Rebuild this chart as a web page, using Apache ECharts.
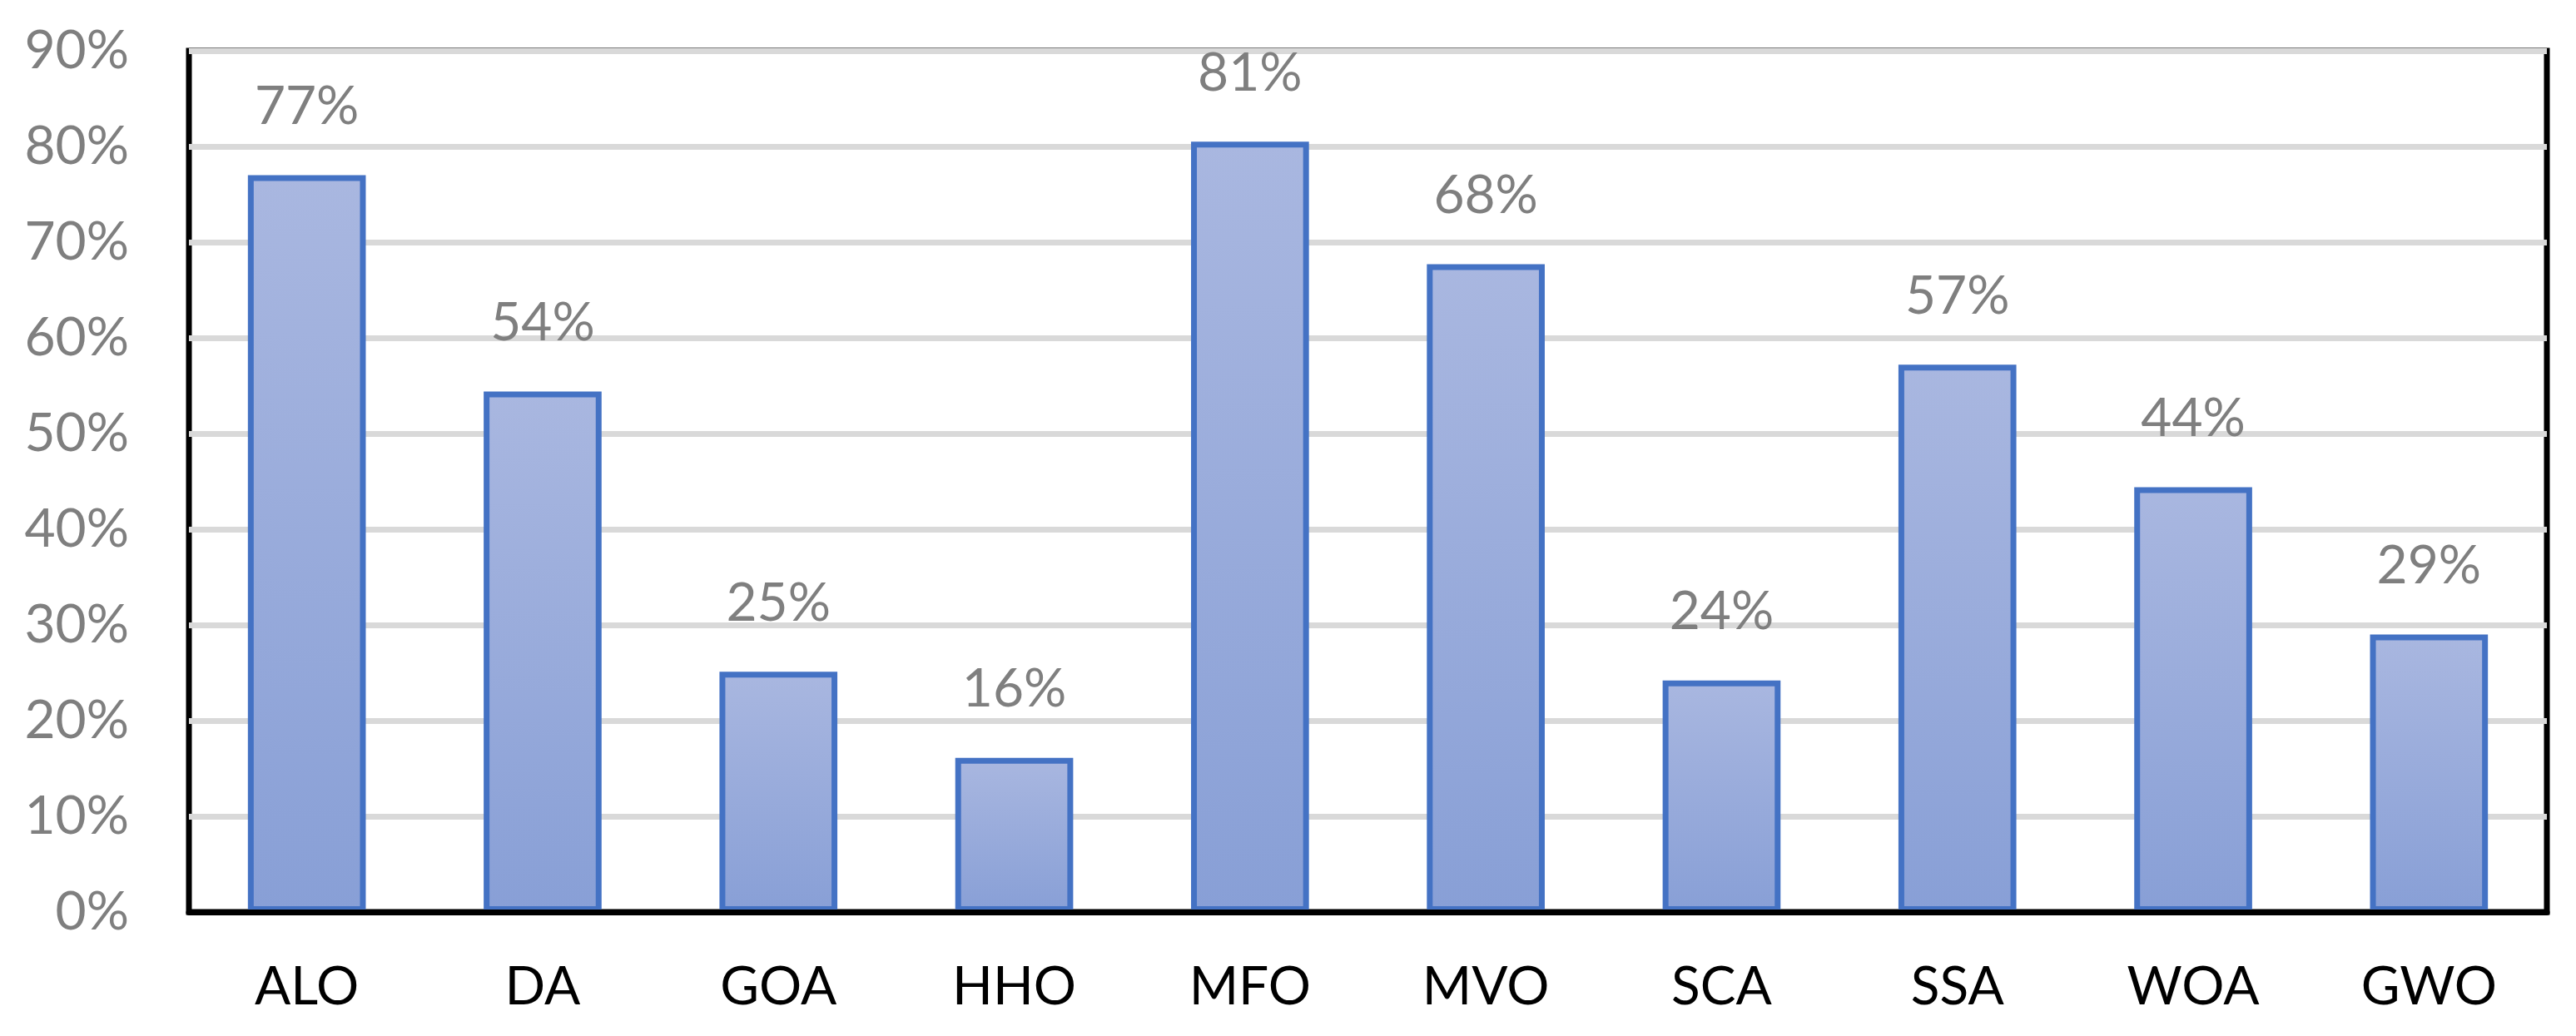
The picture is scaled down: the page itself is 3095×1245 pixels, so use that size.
<!DOCTYPE html>
<html>
<head>
<meta charset="utf-8">
<script src="https://cdn.jsdelivr.net/npm/echarts/dist/echarts.min.js"></script>
<style>
html,body{margin:0;padding:0;background:#fff;}
#chart{width:3095px;height:1245px;}
</style>
</head>
<body>
<div id="chart"></div>
<script>
var categories = ['ALO', 'DA', 'GOA', 'HHO', 'MFO', 'MVO', 'SCA', 'SSA', 'WOA', 'GWO'];
var values = [77.0, 54.4, 25.1, 16.1, 80.5, 67.7, 24.2, 57.2, 44.4, 29.0];
var yTicks = [0, 10, 20, 30, 40, 50, 60, 70, 80, 90];

var chart = echarts.init(document.getElementById('chart'), null, {renderer: 'canvas'});
var fontFamily = 'Lato, "Open Sans", sans-serif';
chart.setOption({
  animation: false,
  backgroundColor: '#ffffff',
  grid: {
    left: 227, right: 35, top: 61, bottom: 149,
    show: true, borderColor: '#000000', borderWidth: 7, backgroundColor: 'transparent'
  },
  xAxis: {
    type: 'category',
    data: categories,
    z: 10,
    axisLine: {show: true, lineStyle: {color: '#000000', width: 7}},
    axisTick: {show: false},
    axisLabel: {color: '#000000', fontSize: 64, fontFamily: fontFamily, margin: 58}
  },
  yAxis: {
    type: 'value',
    min: yTicks[0],
    max: yTicks[yTicks.length - 1],
    interval: yTicks[1] - yTicks[0],
    axisLine: {show: false},
    axisTick: {show: false},
    splitLine: {show: true, lineStyle: {color: '#D9D9D9', width: 7}},
    axisLabel: {color: '#7F7F7F', fontSize: 64, fontFamily: fontFamily, margin: 72,
      formatter: function (v) { return v + '%'; }}
  },
  series: [{
    type: 'bar',
    data: values,
    barWidth: '50%',
    itemStyle: {
      color: new echarts.graphic.LinearGradient(0, 0, 0, 1, [
        {offset: 0, color: '#A9B7E0'},
        {offset: 1, color: '#889FD6'}
      ]),
      borderColor: '#4472C4',
      borderWidth: 7
    },
    label: {
      show: true,
      position: 'top',
      distance: 50,
      color: '#7F7F7F',
      fontSize: 64,
      fontFamily: fontFamily,
      formatter: function (p) { return Math.round(p.value) + '%'; }
    }
  }]
});
</script>
</body>
</html>
